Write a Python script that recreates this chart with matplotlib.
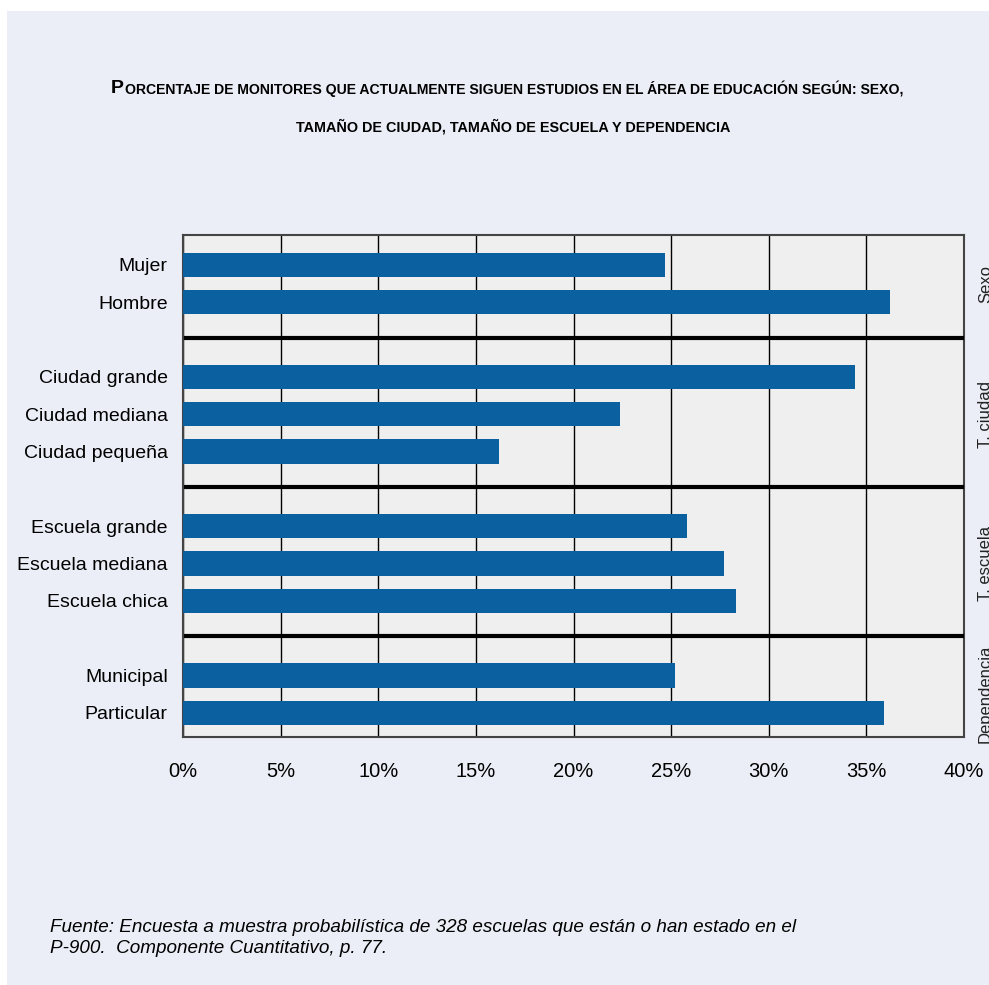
import matplotlib.pyplot as plt
from matplotlib.patches import Rectangle

# data
groups = ["Sexo", "T. ciudad", "T. escuela", "Dependencia"]
labels = [
    ["Mujer", "Hombre"],
    ["Ciudad grande", "Ciudad mediana", "Ciudad pequeña"],
    ["Escuela grande", "Escuela mediana", "Escuela chica"],
    ["Municipal", "Particular"],
]
values = [
    [24.7, 36.2],
    [34.4, 22.4, 16.2],
    [25.8, 27.7, 28.3],
    [25.2, 35.9],
]
xticks = [0, 5, 10, 15, 20, 25, 30, 35, 40]

title1 = "ORCENTAJE DE MONITORES QUE ACTUALMENTE SIGUEN ESTUDIOS EN EL ÁREA DE EDUCACIÓN SEGÚN: SEXO,"
title2 = "TAMAÑO DE CIUDAD, TAMAÑO DE ESCUELA Y DEPENDENCIA"
fuente = ("Fuente: Encuesta a muestra probabilística de 328 escuelas que están o han estado en el\n"
          "P-900.  Componente Cuantitativo, p. 77.")

font = ["Liberation Sans", "DejaVu Sans"]
bar_color = "#0B61A0"
panel = "#EBEEF6"

fig = plt.figure(figsize=(9.89, 9.85), dpi=100, facecolor="white")
fig.patches.append(Rectangle((7 / 989, 0), 1, 974 / 985, transform=fig.transFigure,
                             facecolor=panel, edgecolor="none", zorder=-10))

ax = fig.add_axes([183 / 989, 248 / 985, 781 / 989, 502 / 985])
ax.set_facecolor("#EFEFEF")

# y positions: one slot per bar, one empty slot between groups
pos, names, vals, seps, centers = [], [], [], [], []
slot = 0
for gi, (labs, vs) in enumerate(zip(labels, values)):
    start = slot
    for lab, v in zip(labs, vs):
        pos.append(slot)
        names.append(lab)
        vals.append(v)
        slot += 1
    centers.append((start + slot - 1) / 2)
    if gi < len(labels) - 1:
        seps.append(slot - 0.05)
        slot += 1

ax.barh(pos, vals, height=0.65, color=bar_color, zorder=3)
for s in seps:
    ax.axhline(s, xmin=0.004, xmax=1, color="black", lw=3, zorder=4)

ax.set_xlim(0, 40)
ax.set_ylim(12.65, -0.8)
ax.set_xticks(xticks)
ax.set_xticklabels([f"{t}%" for t in xticks], family=font, fontsize=14.5)
ax.set_yticks(pos)
ax.set_yticklabels(names, family=font, fontsize=14)
ax.tick_params(axis="y", length=0, pad=11)
ax.tick_params(axis="x", length=0, pad=18)
ax.grid(axis="x", color="black", lw=1, zorder=1)
for sp in ax.spines.values():
    sp.set_color("#444444")
    sp.set_linewidth(1.5)

for g, c in zip(groups, centers):
    ax.text(1.018, c, g, transform=ax.get_yaxis_transform(), rotation=90,
            ha="left", va="center", fontsize=12, family=font,
            color="#222222")

p = fig.text(111 / 989, 1 - 93 / 985, "P", fontsize=14, fontweight="bold",
             family=font, ha="left", va="baseline")
ax.annotate(title1, xy=(1, 0), xycoords=p, xytext=(1, 0), textcoords="offset points",
            fontsize=10.1, fontweight="bold", family=font, ha="left", va="bottom")
fig.text(513 / 989, 1 - 132 / 985, title2, fontsize=10.4, fontweight="bold",
         family=font, ha="center", va="baseline")

fig.text(50 / 989, 1 - 953 / 985, fuente, fontsize=13.6, style="italic",
         family=font, ha="left", va="baseline", linespacing=1.3)

fig.savefig("out.png", dpi=100, facecolor="white")
